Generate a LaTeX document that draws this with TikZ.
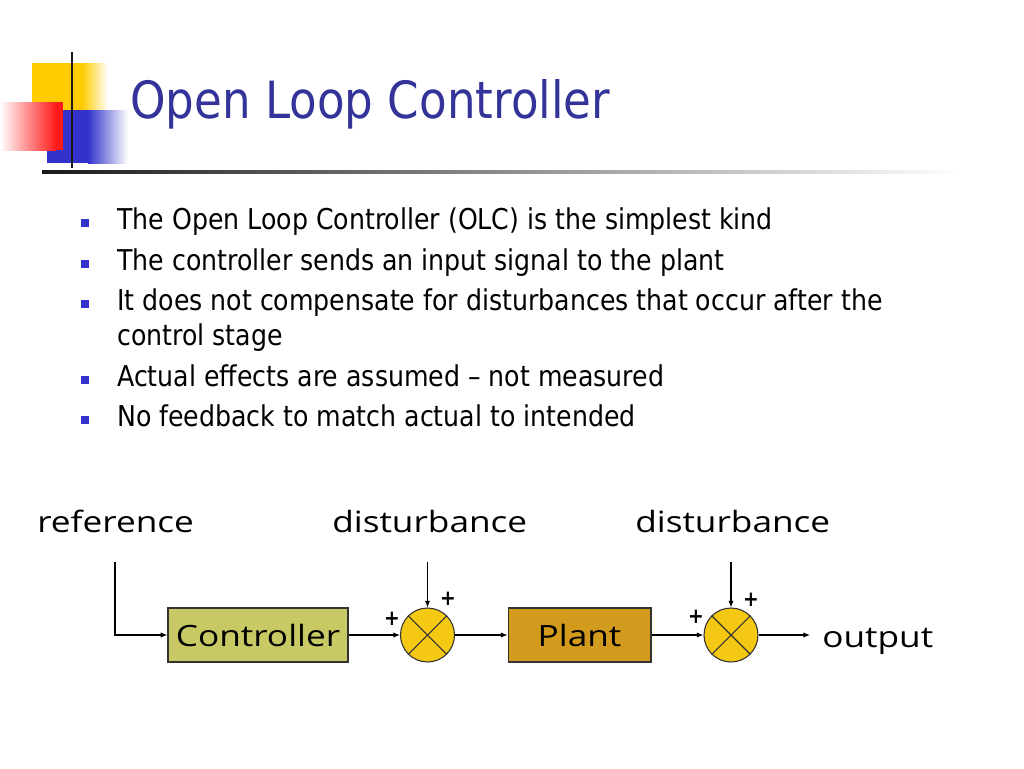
\documentclass[tikz,border=0pt]{standalone}
\usepackage{fontspec}
\setmainfont{DejaVu Sans}[FakeStretch=0.88]
\newfontfamily\diagfont{Open Sans}[FakeStretch=1.2]
\usetikzlibrary{arrows.meta}
\definecolor{titleblue}{HTML}{333399}
\definecolor{bulletblue}{HTML}{3333CC}
\definecolor{logoyellow}{HTML}{FFCC00}
\definecolor{logoblue}{HTML}{3333CC}
\definecolor{logored}{HTML}{FF1A1A}
\definecolor{ctrlfill}{HTML}{C8C864}
\definecolor{plantfill}{HTML}{D29B1E}
\definecolor{sumfill}{HTML}{F5C814}
\tikzset{
  bullettext/.style={anchor=base west, inner sep=0pt, font=\fontsize{21.5}{25}\selectfont},
  bulletsq/.style={fill=bulletblue, draw=none, minimum size=6pt, inner sep=0pt},
  lbl/.style={anchor=base west, inner sep=0pt, font=\diagfont\fontsize{22}{26}\selectfont},
  blockbox/.style={draw=black!80, line width=1pt, minimum height=40.5pt, inner sep=0pt, font=\diagfont\fontsize{22}{26}\selectfont},
  sumnode/.style={circle, draw=black!80, line width=0.8pt, fill=sumfill, minimum size=40.5pt, inner sep=0pt},
  plus/.style={inner sep=0pt, font=\bfseries\fontsize{16}{16}\selectfont},
  arr/.style={line width=0.8pt, -{Latex[length=5pt,width=4pt]}}
}
\begin{document}
\begin{tikzpicture}[x=0.75pt,y=-0.75pt]
\useasboundingbox[fill=white] (0,0) rectangle (1024,768);
% logo
\fill[logoyellow] (32,63) rectangle (82,110);
\shade[left color=logoyellow, right color=white] (82,63) rectangle (108,110);
\fill[logoblue] (47,110) rectangle (88,163);
\shade[left color=logoblue, right color=white] (88,110) rectangle (128,163);
\shade[left color=white, right color=logored] (0,102) rectangle (56,150);
\fill[logored] (56,102) rectangle (63,150);
\draw[line width=2.2pt, black!90] (72,52) -- (72,168);
\shade[left color=black!90, middle color=black!35, right color=white] (42,170.5) rectangle (960,173.5);
% title
\node[anchor=base west, inner sep=0pt, text=titleblue, font=\fontsize{38.5}{44}\selectfont] (title) at (130,118) {Open Loop Controller};
% bullets
\node[bulletsq] (b1) at (85,223) {};
\node[bullettext] (t1) at (117,229) {The Open Loop Controller (OLC) is the simplest kind};
\node[bulletsq] (b2) at (85,264) {};
\node[bullettext] (t2) at (117,270) {The controller sends an input signal to the plant};
\node[bulletsq] (b3) at (85,304) {};
\node[bullettext] (t3) at (117,310) {It does not compensate for disturbances that occur after the};
\node[bullettext] (t3b) at (117,345) {control stage};
\node[bulletsq] (b4) at (85,380) {};
\node[bullettext] (t4) at (117,386) {Actual effects are assumed -- not measured};
\node[bulletsq] (b5) at (85,420) {};
\node[bullettext] (t5) at (117,426) {No feedback to match actual to intended};
% diagram labels
\node[lbl] (ref) at (37,532) {reference};
\node[lbl] (dist1) at (332,532) {disturbance};
\node[lbl] (dist2) at (635,532) {disturbance};
\node[lbl] (out) at (822,647) {output};
% blocks
\node[blockbox, fill=ctrlfill, minimum width=135pt] (ctrl) at (258,635) {Controller};
\node[blockbox, fill=plantfill, minimum width=107pt] (plant) at (579.5,635) {Plant};
\node[sumnode] (s1) at (427.5,635) {};
\node[sumnode] (s2) at (731,635) {};
\draw[line width=0.8pt, black!80] (s1.north east) -- (s1.south west) (s1.north west) -- (s1.south east);
\draw[line width=0.8pt, black!80] (s2.north east) -- (s2.south west) (s2.north west) -- (s2.south east);
% plus signs
\node[plus] (p1a) at (448,599) {+};
\node[plus] (p1b) at (392,619) {+};
\node[plus] (p2a) at (751,600) {+};
\node[plus] (p2b) at (696,617) {+};
% connectors
\coordinate (refstart) at (115,562);
\coordinate (d1start) at (427.5,562);
\coordinate (d2start) at (731,562);
\coordinate (outend) at (810,635);
\draw[arr] (refstart) |- (ctrl.west);
\draw[arr] (ctrl.east) -- (s1.west);
\draw[arr] (d1start) -- (s1.north);
\draw[arr] (s1.east) -- (plant.west);
\draw[arr] (plant.east) -- (s2.west);
\draw[arr] (d2start) -- (s2.north);
\draw[arr] (s2.east) -- (outend);
\end{tikzpicture}
\end{document}
